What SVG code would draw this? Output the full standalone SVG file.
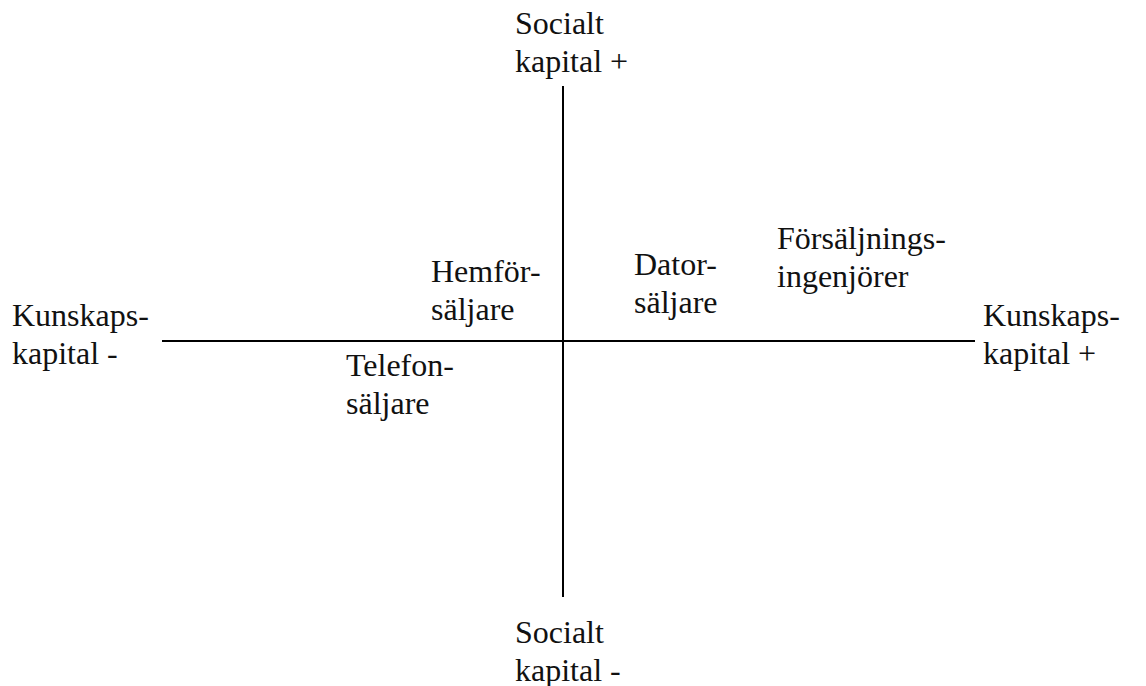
<svg xmlns="http://www.w3.org/2000/svg" width="1146" height="686" viewBox="0 0 1146 686">
<style>
text{font-family:"Liberation Serif","Times New Roman",serif;font-size:32px;fill:#111}
.ax{stroke:#000;stroke-width:2;fill:none}
</style>
<rect width="1146" height="686" fill="#fff"/>
<g id="connectors">
<line class="ax" x1="563" y1="86" x2="563" y2="597"/>
<line class="ax" x1="162" y1="341" x2="975" y2="341"/>
</g>
<g id="social-plus"><text x="515" y="34">Socialt</text><text x="515" y="72">kapital +</text></g>
<g id="social-minus"><text x="515" y="643">Socialt</text><text x="515" y="681">kapital -</text></g>
<g id="kunskap-minus"><text x="12" y="326">Kunskaps-</text><text x="12" y="364">kapital -</text></g>
<g id="kunskap-plus"><text x="983" y="326">Kunskaps-</text><text x="983" y="364">kapital +</text></g>
<g id="hemforsaljare"><text x="431" y="282">Hemför-</text><text x="431" y="320">säljare</text></g>
<g id="telefonsaljare"><text x="346" y="376">Telefon-</text><text x="346" y="414">säljare</text></g>
<g id="datorsaljare"><text x="634" y="275">Dator-</text><text x="634" y="313">säljare</text></g>
<g id="forsaljningsingenjorer"><text x="777" y="249">Försäljnings-</text><text x="777" y="287">ingenjörer</text></g>
</svg>
